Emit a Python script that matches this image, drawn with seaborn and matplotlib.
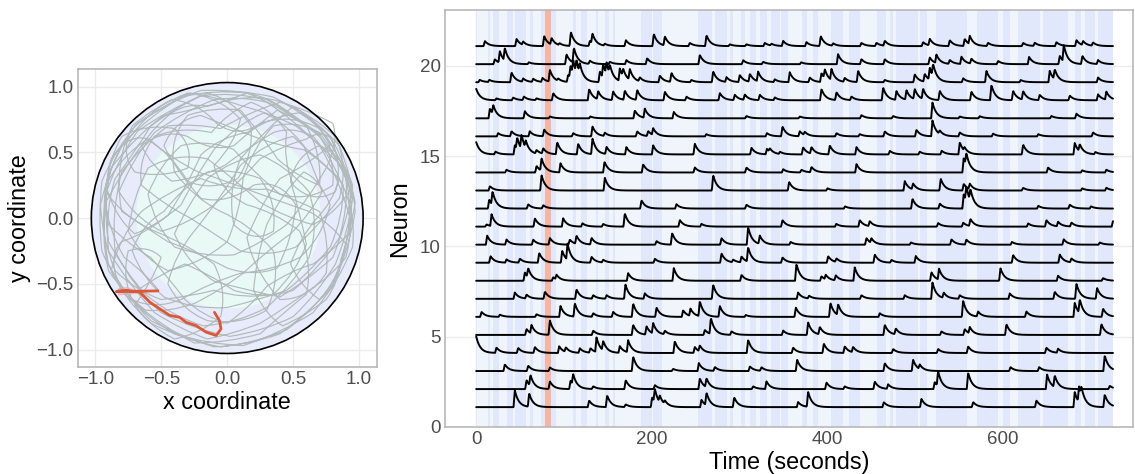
import numpy as np
import pandas as pd
import matplotlib
matplotlib.use("Agg")
import matplotlib.pyplot as plt
import seaborn as sns
from matplotlib.path import Path
from matplotlib.patches import PathPatch, Circle

# ---------------------------------------------------------------- data
# arena: outer wall radius and central zone radius
arena_radius = 1.03
center_radius = 0.70

# animal path across the whole session (waypoints, arena units)
path_x = [-0.52, -0.62, -0.78, -0.90, -0.93, -0.85, -0.68, -0.45, -0.20, 0.05, 0.30, 0.52, 0.70, 0.82, 0.80,
          0.62, 0.40, 0.20, 0.05, -0.15, -0.35, -0.52, -0.60, -0.55, -0.40, -0.18, 0.05, 0.25, 0.45, 0.62,
          0.75, 0.85, 0.80, 0.62, 0.40, 0.15, -0.05, -0.25, -0.45, -0.65, -0.80, -0.88, -0.85, -0.72, -0.50,
          -0.25, 0.02, 0.28, 0.50, 0.68, 0.82, 0.92, 0.95, 0.90, 0.75, 0.55, 0.35, 0.20, 0.12, 0.10,
          0.00, -0.20, -0.45, -0.65, -0.75, -0.72, -0.60, -0.40, -0.15, 0.05, 0.25, 0.45, 0.65, 0.85, 0.95,
          0.88, 0.70, 0.52, 0.48, 0.55, 0.60, 0.52, 0.35, 0.12, -0.10, -0.30, -0.50, -0.70, -0.85, -0.95,
          -0.96, -0.90, -0.78, -0.58, -0.35, -0.10, 0.15, 0.40, 0.60, 0.72, 0.70, 0.55, 0.38, 0.25, 0.10,
          -0.10, -0.30, -0.45, -0.40, -0.25, -0.05, 0.18, 0.35, 0.40, 0.30, 0.10, -0.15, -0.35, -0.45, -0.40,
          -0.25, -0.05, 0.10, 0.30, 0.50, 0.68, 0.85, 0.98, 0.95, 0.85, 0.65, 0.40, 0.12, -0.15, -0.40,
          -0.62, -0.80, -0.92, -0.80, -0.62, -0.45, -0.30, -0.20, -0.05, 0.15, 0.35, 0.55, 0.70, 0.78, 0.60,
          0.40, 0.25, 0.15, 0.20, 0.40, 0.62, 0.75, 0.78, 0.70, 0.50, 0.30, 0.05, -0.20, -0.45, -0.65,
          -0.82, -0.88, -0.78, -0.58, -0.32, -0.05, 0.22, 0.45, 0.65, 0.80, 0.90, 0.93, 0.85, 0.70, 0.50,
          0.30, 0.10, -0.10, -0.35, -0.55, -0.72, -0.82, -0.70, -0.50, -0.30, -0.10, 0.10, 0.25, 0.42, 0.60,
          0.75, 0.82, 0.92, 0.97, 0.93, 0.86, 0.85, 0.75, 0.58, 0.42, 0.30, 0.20, 0.22, 0.30, 0.42,
          0.58, 0.70, 0.78, 0.72, 0.55, 0.35, 0.10, -0.15, -0.35, -0.55, -0.72, -0.80, -0.75, -0.60, -0.50,
          -0.58, -0.70, -0.60, -0.40, -0.20, -0.05, 0.00, -0.10, -0.30, -0.55, -0.78, -0.92, -0.90, -0.80, -0.62,
          -0.40, -0.25, -0.30, -0.50, -0.70, -0.82, -0.72, -0.55, -0.30, -0.05, 0.10, 0.05, -0.10, -0.05, 0.15,
          0.35, 0.55, 0.65, 0.60, 0.45, 0.25, 0.00, -0.25, -0.50, -0.68, -0.85, -0.95, -0.98, -0.95, -0.85,
          -0.68, -0.45, -0.20, 0.08, 0.35, 0.58, 0.78, 0.88, 0.82, 0.65, 0.50, 0.42, 0.45, 0.35, 0.18,
          0.00, -0.12, -0.35, -0.55, -0.68, -0.65, -0.48, -0.28, -0.10, 0.10, 0.32, 0.52, 0.70, 0.85, 0.92,
          0.82, 0.65, 0.42, 0.20, -0.05, -0.25, -0.48, -0.70, -0.88, -0.95, -0.90, -0.78, -0.62, -0.42, -0.18,
          0.08, 0.30, 0.48, 0.62, 0.70, 0.62, 0.45, 0.25, 0.05, -0.15, -0.30, -0.40, -0.30, -0.10, 0.15,
          0.40, 0.60, 0.80, 0.90, 0.95, 0.85, 0.70, 0.48, 0.25, 0.08, -0.08, -0.22, -0.42, -0.62, -0.78,
          -0.85, -0.80, -0.65, -0.45, -0.25, 0.00, 0.20, 0.38, 0.50, 0.52, 0.40, 0.20, 0.00, -0.20, -0.38,
          -0.48, -0.40, -0.20, 0.00, 0.20, 0.38, 0.58, 0.75, 0.88, 0.88, 0.78, 0.62, 0.45, 0.25, 0.00,
          -0.25, -0.48, -0.65, -0.72, -0.65, -0.48, -0.35, -0.15, 0.05, 0.25, 0.38, 0.35, 0.20, 0.05, 0.00,
          0.10, 0.30, 0.50, 0.70, 0.85, 0.95, 0.97, 0.92, 0.80, 0.62, 0.40, 0.15, -0.10, -0.35, -0.58,
          -0.78, -0.90, -0.96, -0.92, -0.80, -0.60, -0.42, -0.30, -0.12, 0.08, 0.20, 0.18, 0.05, -0.15, -0.38,
          -0.58, -0.70,
          -0.85, -0.93, -0.90, -0.75, -0.55, -0.35, -0.15, 0.05, 0.25, 0.45, 0.62, 0.78, 0.90, 0.96, 0.93,
          0.85, 0.72, 0.55, 0.40, 0.30, 0.15, 0.02, -0.15, -0.30, -0.42, -0.55, -0.65, -0.58, -0.42, -0.22,
          -0.02, 0.18, 0.35, 0.50, 0.65, 0.78, 0.85, 0.80, 0.68, 0.55, 0.48, 0.55, 0.70, 0.85, 0.90,
          0.80, 0.62, 0.42, 0.20, 0.00, -0.22, -0.42, -0.60, -0.75, -0.88, -0.95, -0.90, -0.75, -0.58, -0.45,
          -0.32, -0.18, 0.00, 0.15, 0.30, 0.48, 0.65, 0.80, 0.92, 0.95, 0.88, 0.72, 0.52, 0.32, 0.12,
          -0.08, -0.28, -0.50, -0.70, -0.85, -0.92, -0.85, -0.70, -0.52, -0.35, -0.25, -0.10, 0.08, 0.28, 0.45,
          0.58, 0.65, 0.72, 0.62, 0.48, 0.30, 0.12, -0.05, -0.25, -0.45, -0.62, -0.78, -0.90, -0.96, -0.92,
          -0.80, -0.65, -0.48, -0.30, -0.12, 0.05, 0.22, 0.38, 0.55, 0.70, 0.82, 0.90, 0.92, 0.85, 0.70,
          0.50, 0.28, 0.05, -0.15, -0.32, -0.50, -0.68, -0.75]
path_y = [-0.55, -0.42, -0.30, -0.10, 0.15, 0.42, 0.66, 0.82, 0.93, 0.96, 0.90, 0.78, 0.62, 0.45, 0.25,
          0.12, 0.18, 0.35, 0.52, 0.60, 0.55, 0.40, 0.18, -0.05, -0.22, -0.30, -0.28, -0.20, -0.05, 0.15,
          0.38, 0.58, 0.72, 0.82, 0.88, 0.80, 0.68, 0.72, 0.70, 0.55, 0.35, 0.05, -0.25, -0.52, -0.72,
          -0.85, -0.90, -0.86, -0.75, -0.58, -0.35, -0.10, 0.15, 0.40, 0.62, 0.75, 0.70, 0.55, 0.30, 0.05,
          -0.18, -0.35, -0.40, -0.30, -0.10, 0.15, 0.38, 0.50, 0.45, 0.30, 0.12, 0.00, -0.05, 0.05, 0.25,
          0.48, 0.55, 0.48, 0.28, 0.05, -0.20, -0.42, -0.58, -0.62, -0.55, -0.60, -0.62, -0.55, -0.40, -0.15,
          0.10, 0.38, 0.58, 0.78, 0.92, 0.98, 0.95, 0.85, 0.70, 0.48, 0.25, 0.30, 0.45, 0.65, 0.82,
          0.85, 0.78, 0.60, 0.35, 0.15, 0.05, -0.05, -0.25, -0.48, -0.70, -0.82, -0.78, -0.70, -0.50, -0.28,
          -0.10, 0.15, 0.40, 0.58, 0.62, 0.45, 0.30, 0.05, -0.22, -0.48, -0.72, -0.88, -0.97, -0.96, -0.88,
          -0.75, -0.55, -0.30, -0.18, -0.12, 0.02, 0.25, 0.48, 0.62, 0.65, 0.78, 0.80, 0.72, 0.55, 0.40,
          0.30, 0.10, -0.15, -0.40, -0.62, -0.62, -0.42, -0.18, 0.05, 0.15, 0.22, 0.20, 0.30, 0.20, 0.05,
          -0.15, -0.40, -0.62, -0.80, -0.93, -0.98, -0.95, -0.85, -0.70, -0.50, -0.28, 0.00, 0.30, 0.55, 0.75,
          0.88, 0.93, 0.90, 0.80, 0.65, 0.45, 0.20, 0.00, -0.10, -0.05, 0.10, 0.28, 0.45, 0.55, 0.60,
          0.70, 0.55, 0.35, 0.12, -0.12, -0.32, -0.48, -0.62, -0.75, -0.82, -0.75, -0.55, -0.30, -0.05, 0.20,
          0.35, 0.30, 0.10, -0.15, -0.30, -0.40, -0.42, -0.50, -0.62, -0.70, -0.62, -0.45, -0.25, -0.20, -0.30,
          -0.50, -0.66, -0.82, -0.92, -0.88, -0.75, -0.55, -0.35, -0.20, -0.10, 0.00, 0.20, 0.45, 0.62, 0.72,
          0.68, 0.55, 0.38, 0.30, 0.35, 0.50, 0.70, 0.85, 0.95, 0.92, 0.75, 0.55, 0.40, 0.20, 0.10,
          0.05, -0.10, -0.35, -0.58, -0.70, -0.88, -0.95, -0.95, -0.82, -0.66, -0.50, -0.25, 0.00, 0.28, 0.52,
          0.72, 0.88, 0.97, 0.98, 0.92, 0.80, 0.62, 0.40, 0.20, 0.10, 0.25, 0.45, 0.65, 0.82, 0.88,
          0.80, 0.65, 0.70, 0.62, 0.45, 0.25, 0.10, 0.00, -0.12, -0.25, -0.30, -0.22, -0.05, 0.15, 0.40,
          0.62, 0.78, 0.88, 0.95, 0.88, 0.82, 0.78, 0.62, 0.38, 0.10, -0.18, -0.40, -0.58, -0.75, -0.82,
          -0.80, -0.68, -0.52, -0.30, -0.05, 0.20, 0.40, 0.48, 0.45, 0.30, 0.10, -0.12, -0.35, -0.48, -0.55,
          -0.60, -0.48, -0.30, -0.05, 0.22, 0.50, 0.68, 0.80, 0.72, 0.60, 0.72, 0.88, 0.90, 0.80, 0.55,
          0.30, 0.05, -0.05, -0.18, -0.25, -0.38, -0.45, -0.38, -0.15, 0.10, 0.30, 0.25, 0.10, 0.15, 0.35,
          0.55, 0.75, 0.78, 0.70, 0.62, 0.55, 0.52, 0.42, 0.25, 0.00, -0.22, -0.42, -0.55, -0.62, -0.68,
          -0.70, -0.60, -0.45, -0.25, -0.05, 0.05, 0.22, 0.35, 0.38, 0.30, 0.12, -0.10, -0.20, -0.05, 0.20,
          0.45, 0.68, 0.85, 0.72, 0.55, 0.30, 0.05, -0.25, -0.52, -0.72, -0.88, -0.97, -0.98, -0.90, -0.78,
          -0.58, -0.35, -0.05, 0.25, 0.48, 0.60, 0.48, 0.28, 0.20, 0.30, 0.48, 0.70, 0.90, 0.95, 0.85,
          0.70, 0.50,
          0.30, 0.05, -0.25, -0.50, -0.72, -0.85, -0.92, -0.88, -0.80, -0.68, -0.55, -0.45, -0.30, -0.05, 0.22,
          0.45, 0.62, 0.75, 0.85, 0.92, 0.95, 0.90, 0.85, 0.88, 0.80, 0.70, 0.55, 0.40, 0.28, 0.30,
          0.40, 0.55, 0.65, 0.70, 0.62, 0.48, 0.30, 0.12, 0.00, -0.15, -0.35, -0.52, -0.62, -0.45, -0.20,
          -0.05, 0.05, 0.12, 0.20, 0.28, 0.35, 0.45, 0.60, 0.65, 0.45, 0.20, -0.05, -0.20, -0.30, -0.45,
          -0.62, -0.75, -0.80, -0.70, -0.52, -0.40, -0.35, -0.25, -0.12, 0.15, 0.38, 0.55, 0.70, 0.80, 0.85,
          0.92, 0.95, 0.85, 0.70, 0.50, 0.25, 0.00, -0.12, -0.05, 0.10, 0.30, 0.52, 0.72, 0.80, 0.72,
          0.55, 0.38, 0.20, 0.02, -0.12, -0.25, -0.42, -0.55, -0.65, -0.72, -0.70, -0.58, -0.40, -0.15, 0.12,
          0.35, 0.55, 0.68, 0.62, 0.50, 0.55, 0.70, 0.82, 0.75, 0.62, 0.48, 0.30, 0.10, -0.15, -0.38,
          -0.55, -0.62, -0.55, -0.42, -0.35, -0.42, -0.55, -0.60]

# path during the highlighted window
seg_x = [-0.097, -0.059, -0.047, -0.084, -0.160, -0.236, -0.311, -0.361, -0.437, -0.512, -0.587, -0.664,
         -0.764, -0.827, -0.840, -0.827, -0.764, -0.664, -0.525]
seg_y = [-0.717, -0.780, -0.843, -0.893, -0.868, -0.818, -0.793, -0.755, -0.740, -0.690, -0.640, -0.566,
         -0.575, -0.580, -0.560, -0.530, -0.525, -0.560, -0.554]

# session timing (seconds)
session_end = 725
window_start, window_end = 78.2, 84.7

# periods spent near the arena wall
wall_start = [0, 13.7, 18.7, 34.6, 44, 61, 73.6, 110.4, 118.8, 135.9, 146.5, 155.2, 188, 201.5, 253, 272,
              289, 302, 311.6, 323, 336, 347.6, 371.5, 383.6, 404.5, 425, 456.5, 471, 478.5, 505, 524, 570,
              600, 617, 645.4, 681.5, 693, 708]
wall_end = [1, 15.6, 26.2, 41.4, 56.6, 64.9, 90.7, 113.5, 125.6, 138.2, 151.4, 157.8, 200, 212, 268, 285,
            292.6, 306, 319, 330.6, 345.7, 355, 377, 389, 418, 437, 467, 474.7, 503, 512.7, 559, 594,
            607.5, 641.7, 674, 689, 704, 725]

# calcium events per neuron: (time in s, peak height in trace units)
events = {
    1: [(44, .92), (60.3, .74), (128.6, .37), (149.1, .65), (170.2, .15), (200.3, .55), (203.4, .74),
        (209.1, .37), (214.8, .2), (256.5, .4), (262.2, .7), (293.7, .55), (366.5, .28), (377.9, .83),
        (464.1, .28), (506.9, .46), (565.8, .28), (637.8, .37), (681.5, .83), (686.4, .89), (689.1, .5),
        (715.6, .7)],
    2: [(57.3, .5), (61.8, .6), (83.9, .42), (107.4, .46), (110.4, .6), (133.2, .15), (170.2, .5),
        (203.4, .22), (254.6, .6), (262.2, .5), (315.3, .15), (330.5, .42), (398.8, .37), (419.6, .15),
        (453.8, .42), (469, .25), (522.1, .4), (525.9, .83), (560.1, .92), (650, .8), (658.7, .65),
        (721.3, .18)],
    3: [(32.6, .37), (59.2, .3), (83.9, .2), (178.7, .81), (224.2, .12), (253.5, .44), (271.7, .22),
        (311.6, .26), (324.8, .2), (365.4, .63), (465.2, .44), (497.4, .63), (505, .25), (608.3, .22),
        (640.9, .22), (715.6, .87)],
    4: [(0, .92), (23.1, .3), (47.8, .28), (66.8, .33), (94.5, .37), (102.1, .25), (118, .25), (130.1, .25),
        (137, .8), (144.6, .52), (163.5, .37), (173, .66), (226.1, .66), (248.9, .33), (254.6, .33),
        (309.6, .74), (360.8, .3), (395.8, .52), (419.6, .37), (429.1, .3), (474.7, .22), (525.9, .22),
        (560.1, .37), (649.2, .3), (662.5, .22)],
    5: [(57.3, .33), (63, .46), (83.9, .8), (133.2, .24), (178.7, .57), (193.9, .46), (201.5, .57),
        (214.8, .2), (260.3, .28), (267.2, .89), (290.7, .2), (349.5, .24), (377.9, .7), (391.2, .42),
        (465.2, .57), (477.7, .33), (529.7, .2), (556.2, .33), (562, .35), (603.7, .6), (711.8, .6)],
    6: [(6.1, .28), (27, .12), (68.7, .15), (96, .6), (112.3, .74), (133.2, .2), (155.9, .28), (178.7, .74),
        (205.3, .52), (235.6, .37), (244, .4), (254.6, .83), (277.4, .6), (307, .1), (363.9, .52),
        (403.3, .77), (412.1, .6), (459.5, .2), (554.4, .89), (571.4, .28), (626.4, .3), (681.5, .77),
        (687.2, .77), (713.7, .46)],
    7: [(44, .35), (57.3, .22), (78.2, .4), (114.2, .53), (133.2, .2), (148.4, .2), (169.9, .8), (192, .3),
        (269.8, .78), (366.5, .35), (379, .15), (438.6, .2), (488, .2), (519.5, .9), (532.3, .3),
        (550.6, .2), (607.5, .3), (658.7, .4), (683.4, .83), (706.9, .6)],
    8: [(55.4, .46), (59.2, .52), (87.7, .2), (91.5, .25), (173, .42), (225, .7), (302.1, .33), (364.6, .94),
        (393.1, .25), (398, .25), (409.4, .28), (431, .74), (518.3, .48), (527, .6), (596.9, .7),
        (662.5, .28), (713.7, .15)],
    9: [(16.3, .37), (34.5, .18), (49.7, .22), (71.7, .55), (97.9, .66), (104, .89), (131.3, .33),
        (144.6, .15), (203.4, .22), (279.3, .52), (292.6, .15), (302.1, .33), (309.6, .8), (348.7, .3),
        (400.7, .37), (410.2, .2), (453.8, .46), (472.8, .15), (500.5, .37), (611.3, .43), (664.4, .46),
        (677.7, .22)],
    10: [(12.5, .5), (34.5, .28), (64.9, .28), (83.9, .37), (106.6, .28), (114.2, .46), (131.3, .37),
         (205.3, .2), (223.1, .65), (279.3, .37), (309.6, .98), (322.9, .46), (358, .15), (444.3, .37),
         (450, .25), (495, .12), (541.1, .3), (558.1, .28), (610, .15), (668.9, .3), (710, .12)],
    11: [(11.8, .12), (17.5, .65), (66.8, .46), (99, .46), (121, .18), (144.6, .15), (169.2, .74),
         (231.8, .37), (256.5, .15), (348.7, .37), (410, .15), (436.7, .37), (448.1, .28), (525.9, .2),
         (554.4, .22), (562.7, .4), (628.4, .18), (649.2, .37), (662.5, .25), (677.7, .22), (725, .3)],
    12: [(14.8, .5), (18.6, .74), (59.2, .24), (76.3, .18), (188.2, .46), (228, .24), (307.7, .22),
         (420, .12), (496.7, .55), (527.8, .28), (555.1, .83), (558.1, .83), (562.7, .65), (640, .15),
         (675.8, .22), (700, .12)],
    13: [(15.6, .24), (74.4, .85), (146.5, .7), (269.8, .85), (356.3, .48), (400, .12), (488, .52),
         (497.4, .33), (528.9, .65), (555.1, .37), (562, .3), (622.7, .15), (690, .12), (717.5, .15)],
    14: [(34.5, .15), (68.7, .37), (74.4, .68), (96, .5), (146.1, .6), (190.1, .46), (248.9, .28),
         (307.7, .28), (349.5, .18), (370.3, .15), (381.7, .3), (433, .46), (555.1, .83), (558.1, .65),
         (651.1, .28), (690, .12), (717.5, .15)],
    15: [(0, .68), (22, .15), (44, .5), (46.7, .68), (51.6, .8), (56.5, .4), (68.7, .2), (76.3, .3),
         (92.2, .68), (116.1, .6), (132.4, .87), (148.4, .4), (171, .4), (201.5, .5), (248.9, .6),
         (313.4, .37), (331, .3), (334.3, .2), (346, .12), (372.2, .4), (381.7, .37), (402.6, .5),
         (433, .4), (470.9, .2), (505, .15), (530, .2), (550.6, .68), (556, .2), (622.7, .55),
         (681.5, .63), (687.2, .4), (705, .12)],
    16: [(25, .18), (40.2, .28), (61, .28), (77.4, .37), (110.4, .18), (132.4, .55), (146.5, .18),
         (183.3, .28), (195.8, .28), (201.5, .37), (262, .12), (331, .18), (348.7, .55), (368.4, .28),
         (374.1, .18), (410.2, .18), (436.7, .13), (465.2, .28), (501.2, .37), (519.5, .87), (527.8, .2),
         (550.6, .22), (588.5, .15), (640, .12), (702.3, .22)],
    17: [(15.6, .55), (19.4, .5), (55.4, .4), (84, .1), (130, .1), (180.6, .44), (192, .5), (225, .35),
         (307.7, .13), (368.4, .1), (438.6, .18), (474.7, .13), (519.5, .87), (550.6, .1), (573.3, .12),
         (654.9, .13), (683.4, .26)],
    18: [(0, .63), (23.1, .1), (42.1, .15), (54.3, .2), (68.7, .1), (87.7, .4), (128.6, .63), (138.9, .44),
         (155.9, .48), (169.2, .52), (183.3, .55), (214.8, .48), (239.4, .2), (277.4, .4), (294.4, .3),
         (305.8, .3), (322.9, .3), (340, .15), (393.1, .63), (410.2, .44), (427.2, .2), (463.3, .7),
         (478.5, .48), (489.9, .52), (499.3, .57), (508.8, .57), (527.8, .52), (563.8, .48), (586.6, .85),
         (611.3, .52), (622.7, .48), (641.6, .3), (675.8, .26), (708, .33), (717.5, .44)],
    19: [(4, .13), (15, .12), (40.2, .55), (53.5, .18), (64.9, .18), (75.5, .22), (83.9, .65), (93.3, .13),
         (104.7, .4), (107.4, .68), (110.4, .77), (114.2, .74), (118, .5), (140.8, .6), (144.6, .77),
         (148.4, .68), (152.2, .5), (163.5, .68), (167.3, .44), (174.9, .6), (186.3, .22), (209.1, .37),
         (222.3, .5), (245, .12), (269.8, .6), (285, .26), (300.1, .4), (311.6, .44), (321, .53),
         (340, .15), (357, .55), (379.8, .26), (393.1, .5), (396.9, .5), (404.5, .6), (419.6, .22),
         (434.8, .63), (465.2, .13), (499.3, .44), (510.7, .44), (516.4, .68), (520.2, .68), (554.4, .22),
         (580.9, .63), (620, .12), (653, .63), (658.7, .55), (708, .26)],
    20: [(21.2, .28), (26.9, .65), (32.6, .7), (60, .1), (102.8, .55), (111.2, .83), (129.4, .18),
         (152.2, .13), (171, .22), (194.6, .33), (254.6, .52), (303.9, .22), (326.7, .13), (370, .1),
         (412, .55), (438.6, .28), (465.2, .28), (516.4, .37), (524, .46), (539.2, .22), (552.5, .4),
         (563.8, .28), (594.2, .18), (629.5, .4), (664.4, .46), (669, .89), (690.2, .46), (708, .22)],
    21: [(9.9, .28), (45.9, .4), (53.5, .18), (77.4, .55), (85.8, .37), (95, .1), (107.8, .77),
         (129.4, .28), (132.4, .55), (146.5, .1), (170.4, .33), (202.2, .68), (214.8, .5), (243.2, .18),
         (262.2, .6), (288.8, .1), (307.7, .1), (328.6, .18), (336.2, .1), (349.5, .28), (376, .22),
         (392.3, .55), (406.4, .13), (438.6, .18), (455.7, .18), (465.2, .28), (508.8, .22), (516.4, .37),
         (539.2, .33), (556.2, .4), (562, .46), (582.8, .18), (622.7, .18), (635.9, .18), (660.6, .22),
         (683.4, .33), (691, .22), (702.3, .18)],
}

# ---------------------------------------------------------------- traces
time = np.arange(0, session_end + 0.5, 0.5)
rise, tau = 1.5, 4.5
rows = []
for neuron, ev in events.items():
    trace = np.zeros_like(time)
    for t0, amp in ev:
        d = time - t0
        up = np.clip((d + rise) / rise, 0, 1) * (d <= 0)
        down = np.exp(-np.clip(d, 0, None) / tau) * (d > 0)
        trace += amp * (up + down)
    rows.append(pd.DataFrame({"time": time, "level": neuron + 0.1 + trace, "neuron": neuron}))
traces = pd.concat(rows, ignore_index=True)

# ---------------------------------------------------------------- styling
sns.set_theme(style="whitegrid")
plt.rcParams["font.family"] = ["Liberation Sans", "DejaVu Sans"]

grid_col = "#ebebeb"
frame_col = "#b3b3b3"
tick_col = "#4d4d4d"
tick_size = 13.5
title_size = 16.8


def style_axes(ax):
    ax.set_facecolor("white")
    ax.grid(True, color=grid_col, linewidth=1.0)
    ax.set_axisbelow(True)
    for s in ax.spines.values():
        s.set_color(frame_col)
        s.set_linewidth(1.1)
        s.set_visible(True)
    ax.tick_params(length=0, colors=tick_col, labelsize=tick_size, pad=3)


fig = plt.figure(figsize=(11.35, 4.74), dpi=100)
fig.patch.set_facecolor("white")

# ---------------------------------------------------------------- arena panel
axL = fig.add_axes([0.0685, 0.2257, 0.2634, 0.6287])
style_axes(axL)
axL.add_patch(Circle((0, 0), arena_radius, facecolor="#e7ebfc", edgecolor="none", zorder=1))
axL.add_patch(Circle((0.01, 0.01), center_radius, facecolor="#e9f9f6", edgecolor="none", zorder=1.1))

n = min(len(path_x), len(path_y))
n = n if n % 2 == 1 else n - 1
verts = list(zip(path_x[:n], path_y[:n]))
codes = [Path.MOVETO] + [Path.CURVE3] * (n - 1)
axL.add_patch(PathPatch(Path(verts, codes), facecolor="none", edgecolor="#b3babb",
                        linewidth=0.85, zorder=2))
axL.add_patch(Circle((0, 0), arena_radius, facecolor="none", edgecolor="black", linewidth=1.2, zorder=3))
sns.lineplot(x=seg_x, y=seg_y, sort=False, color="#dd5737", linewidth=2.0, ax=axL, zorder=4)

lim = 1.133
axL.set_xlim(-lim, lim)
axL.set_ylim(-lim, lim)
ticks = [-1.0, -0.5, 0.0, 0.5, 1.0]
axL.set_xticks(ticks)
axL.set_yticks(ticks)
labels = [f"{v:.1f}".replace("-", "\u2212") for v in ticks]
axL.set_xticklabels(labels)
axL.set_yticklabels(labels)
axL.set_xlabel("x coordinate", fontsize=title_size, color="black", labelpad=2)
axL.set_ylabel("y coordinate", fontsize=title_size, color="black", labelpad=4)

# ---------------------------------------------------------------- neuron panel
axR = fig.add_axes([0.392, 0.0992, 0.606, 0.8797])
style_axes(axR)
axR.set_xlim(-35.6, 747.5)
axR.set_ylim(0, 23.1)

axR.axvspan(0, session_end, color="#f0f5fc", lw=0, zorder=0.6)
for a, b in zip(wall_start, wall_end):
    axR.axvspan(a, b, color="#e1e8fb", lw=0, zorder=0.7)
axR.axvspan(window_start, window_end, color="#f6b5a0", lw=0, zorder=0.8)

sns.lineplot(data=traces, x="time", y="level", units="neuron", estimator=None,
             color="black", linewidth=1.4, ax=axR, zorder=3)

axR.set_xticks([0, 200, 400, 600])
axR.set_yticks([0, 5, 10, 15, 20])
axR.set_xlabel("Time (seconds)", fontsize=title_size, color="black", labelpad=2)
axR.set_ylabel("Neuron", fontsize=title_size, color="black", labelpad=6)

fig.savefig("out.png", dpi=100, facecolor="white")
